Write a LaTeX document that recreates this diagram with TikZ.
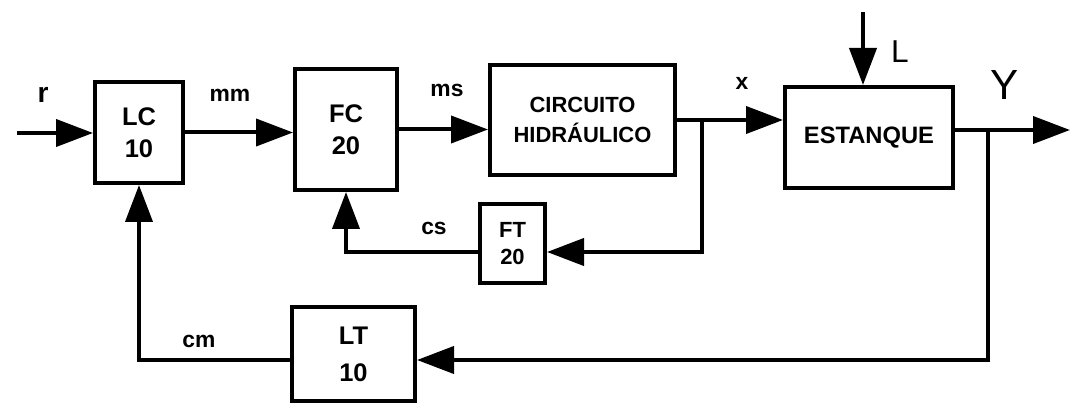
\documentclass[tikz,border=0pt]{standalone}
\usepackage{fontspec}
\setmainfont{Liberation Sans}
\usepackage{tikz}
\usetikzlibrary{arrows.meta,positioning,calc}

\begin{document}
\begin{tikzpicture}[
    line width=0.08cm,
    box/.style={
        draw,
        align=center,
        inner sep=0pt,
        font=\bfseries\fontsize{14.5}{18}\selectfont
    },
    smallbox/.style={
        draw,
        align=center,
        inner sep=0pt,
        font=\bfseries\fontsize{12.5}{15}\selectfont
    },
    lbl/.style={font=\bfseries\fontsize{13}{16}\selectfont},
    >={Triangle[length=0.74cm,width=0.54cm]}
]
\useasboundingbox (0,0) rectangle (21.52,-8.26);

\node[box, minimum width=1.76cm, minimum height=2.02cm] (lc) at (2.78,-2.65) {LC\\10};
\node[box, minimum width=2.04cm, minimum height=2.42cm, right=2.16cm of lc, yshift=0.06cm] (fc) {FC\\20};
\node[box, minimum width=3.70cm, minimum height=2.20cm, right=1.78cm of fc, yshift=0.19cm,
    font=\bfseries\fontsize{12.5}{17}\selectfont] (ch) {CIRCUITO\\HIDRÁULICO};
\node[box, minimum width=3.36cm, minimum height=2.02cm, right=2.12cm of ch, yshift=-0.35cm,
    font=\bfseries\fontsize{13.5}{16}\selectfont] (est) {ESTANQUE};
\node[smallbox, minimum width=1.30cm, minimum height=1.58cm, below=0.5cm of ch, xshift=-1.4cm] (ft) {FT\\20};
\node[box, minimum width=2.46cm, minimum height=1.88cm, below=2.26cm of fc, xshift=0.15cm,
    font=\bfseries\fontsize{14.5}{21}\selectfont] (lt) {LT\\10};

% free ends and branch points
\coordinate (in) at (0.34,-2.66);
\coordinate (ld) at (17.26,-0.24);
\coordinate (out) at (21.4,-2.6);
\coordinate (b1) at (14.04,-5.04);
\coordinate (b2) at (19.76,-7.2);

\draw[->] (in) -- (in -| lc.west);
\draw[->] (lc.east) -- (lc.east -| fc.west);
\draw[->] (fc.east) -- (fc.east -| ch.west);
\draw[->] (ch.east) -- (ch.east -| est.west);
\draw[->] (ld) -- (ld |- est.north);
\draw[->] (est.east |- out) -- (out);

% inner loop
\draw[->] (ch.east -| b1) -- (b1) -- (b1 -| ft.east);
\draw[->] (ft.west |- b1) -| (fc.south);

% outer loop
\draw[->] (out -| b2) -- (b2) -- (b2 -| lt.east);
\draw[->] (lt.west |- b2) -| (lc.south);

\node[lbl, font=\bfseries\fontsize{16}{18}\selectfont] (r) at (0.86,-1.9) {r};
\node[lbl] (mm) at (4.6,-1.9) {mm};
\node[lbl] (ms) at (8.94,-1.8) {ms};
\node[lbl] (x) at (14.84,-1.66) {x};
\node[lbl, font=\fontsize{18}{20}\selectfont] (L) at (18.0,-1.04) {L};
\node[lbl, font=\fontsize{24}{26}\selectfont] (Y) at (20.1,-1.7) {Y};
\node[lbl] (cs) at (8.68,-4.56) {cs};
\node[lbl] (cm) at (3.98,-6.82) {cm};

\end{tikzpicture}
\end{document}
